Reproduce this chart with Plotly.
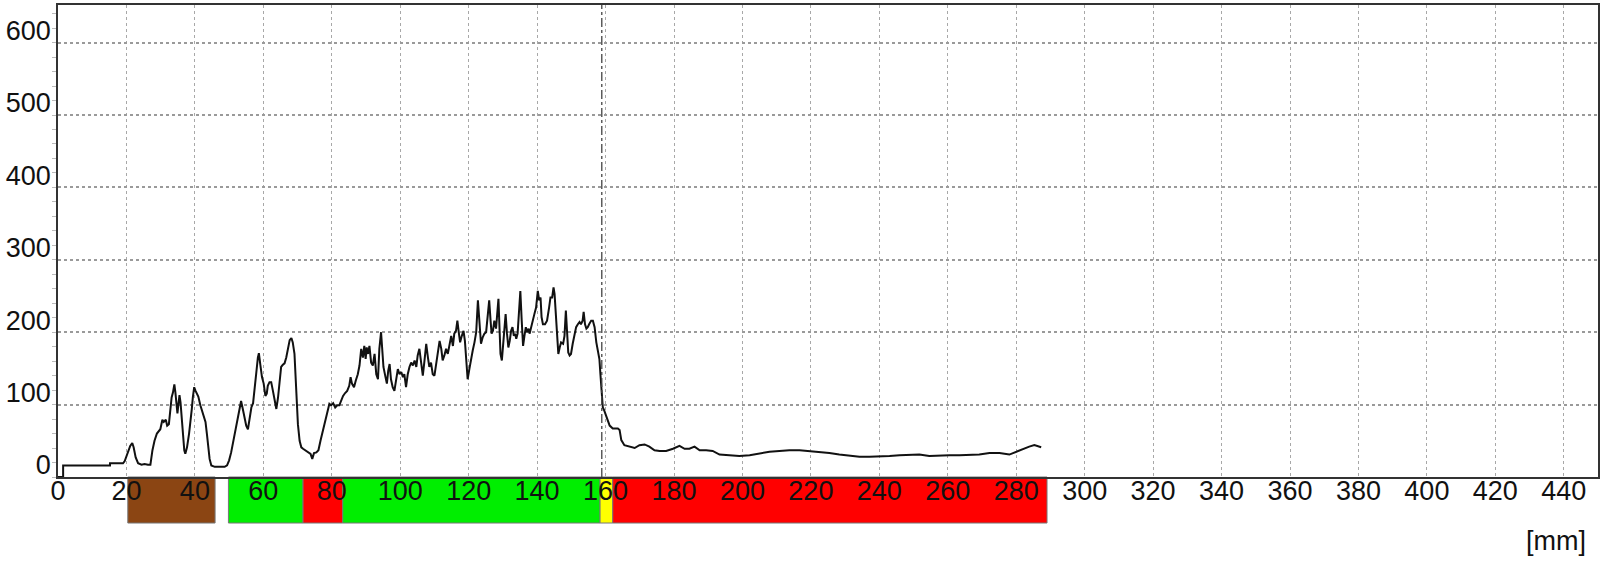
import plotly.graph_objects as go

# ---- profile data (mm, value) ----
pos_mm = [0, 1.5, 1.5, 15.2, 15.2, 19.0,
          19.5, 20.5, 21.1, 21.7, 22.1, 22.7, 23.4, 24.4, 25.3, 26.3, 27.0, 27.6, 28.2, 28.9,
          29.5, 29.9, 30.5, 30.9, 31.5, 31.9, 32.4, 32.8, 33.2, 33.6, 34.0, 34.3, 34.6, 34.9,
          35.2, 35.5, 35.8, 36.1, 36.5, 36.9, 37.2, 37.7, 38.3, 38.7, 39.1, 39.4, 39.8, 40.2,
          40.6, 41.0, 41.6, 42.2, 42.8, 43.1, 43.5, 43.9, 44.3, 44.8, 45.8, 47.2, 48.7, 49.4,
          50.0, 50.6, 51.6,
          52.1, 52.6, 53.1, 53.5, 54.0, 54.5, 55.0, 55.5, 56.0, 56.5, 57.0, 57.4, 57.9, 58.4,
          58.7, 59.1, 59.6, 60.1, 60.6, 61.0, 61.3, 61.8, 62.3, 62.8, 63.3, 63.8, 64.3, 64.7,
          65.2, 65.7, 66.2, 66.7, 67.2, 67.7, 68.2, 68.6, 69.1, 69.5, 69.8, 70.1, 70.6, 71.1,
          71.6, 72.2, 73.0, 73.8, 74.3, 74.8, 75.5, 76.1, 76.7, 77.4, 78.1, 78.7, 79.3, 79.8,
          80.4, 81.0, 81.6, 82.2, 82.8, 83.3, 83.9, 84.5, 85.1, 85.5, 85.9, 86.5, 87.0, 87.6,
          88.1,
          88.6, 89.1, 89.5, 89.9, 90.2, 90.6, 91.0, 91.5, 92.0, 92.5, 93.0, 93.5, 93.9, 94.4,
          94.7, 95.1, 95.7, 96.1, 96.5, 96.9, 97.3, 97.8, 98.3, 98.8, 99.3, 99.8, 100.3, 100.8,
          101.2, 101.7, 102.2, 102.7, 103.2, 103.7, 104.2, 104.7, 105.1, 105.6, 106.1, 106.6,
          107.1, 107.6, 108.1, 108.5, 109.0, 109.5, 110.0, 110.5, 111.0, 111.5, 112.0, 112.4,
          112.9, 113.4, 113.9, 114.4, 114.9, 115.4, 115.8, 116.3, 116.7, 117.1, 117.5, 118.0,
          118.5, 118.9, 119.3, 119.7, 120.2, 120.7, 121.2, 121.7, 122.2, 122.7, 123.2, 123.6,
          124.1, 124.6,
          125.1, 125.6, 126.0, 126.4, 126.7, 127.1, 127.5, 128.0, 128.3, 128.7, 129.0, 129.3,
          129.7, 130.1, 130.4, 130.8, 131.2, 131.6, 132.0, 132.4, 132.8, 133.2, 133.6, 133.9,
          134.3, 134.7, 135.1, 135.5, 135.9, 136.3, 136.7, 137.1, 137.5, 137.8, 138.2, 138.7,
          139.2, 139.7, 140.2, 140.6, 141.0, 141.3, 141.7, 142.3, 142.9, 143.5, 143.9, 144.4,
          144.8, 145.1, 145.5, 145.8, 146.2, 146.6, 147.0, 147.6, 148.0, 148.4, 148.8, 149.1,
          149.5, 149.9, 150.4, 150.9, 151.4, 151.9, 152.4, 152.8, 153.3, 153.6, 154.0, 154.4,
          154.8, 155.2, 155.8, 156.3, 156.8, 157.3, 157.7, 158.2, 158.5, 158.7, 158.9,
          159.2, 159.6, 160.2, 161.2, 162.1, 163.6, 164.1, 164.6, 165.5, 167.0, 168.5, 169.9,
          171.4, 172.8, 174.3, 175.8, 177.7, 179.7, 181.6, 183.1, 184.5, 186.0, 187.5, 189.4,
          191.3, 193.3, 196.2, 199.1, 202.1, 205.0, 207.9, 210.8, 213.7, 216.7, 219.6, 222.5,
          225.4, 228.3, 231.3, 234.2, 237.1, 240.0, 243.0, 245.9, 248.8, 251.7, 254.6, 257.6,
          260.5, 263.4, 266.3, 269.2, 272.2, 275.1, 278.0, 280.0, 281.9, 283.8, 285.3, 286.8,
          287.3]

value = [0, 0, 16, 16, 19, 19,
         22, 34, 43, 47, 41, 27, 19, 17, 18, 17, 17, 37, 50, 60,
         63, 66, 79, 76, 79, 71, 73, 94, 110, 117, 128, 117, 103, 88,
         101, 113, 103, 83, 60, 37, 32, 41, 60, 83, 94, 110, 124, 119,
         115, 111, 99, 90, 83, 76, 60, 41, 25, 16, 14, 14, 14, 16,
         23, 34, 58,
         73, 87, 99, 105, 94, 83, 71, 66, 83, 96, 102, 117, 142, 165,
         171, 156, 138, 129, 112, 115, 126, 131, 131, 119, 103, 94, 110, 133,
         152, 155, 157, 165, 177, 189, 192, 186, 170, 133, 101, 73, 50, 41,
         39, 37, 34, 32, 25, 33, 34, 37, 50, 64, 78, 92, 101, 99,
         102, 96, 99, 99, 106, 112, 116, 119, 126, 138, 129, 124, 133, 142,
         154,
         177, 165, 181, 163, 179, 170, 181, 158, 154, 170, 142, 135, 177, 200,
         177, 152, 138, 129, 147, 156, 135, 124, 119, 133, 149, 142, 145, 138,
         142, 124, 142, 152, 158, 154, 161, 152, 168, 177, 156, 140,
         161, 184, 165, 152, 158, 142, 140, 158, 170, 188, 177, 161,
         168, 177, 170, 184, 195, 181, 198, 202, 216, 200, 186, 195,
         202, 188, 163, 135, 149, 165, 175, 186, 200, 244, 216, 184,
         193, 198,
         200, 225, 244, 216, 198, 202, 216, 205, 221, 246, 207, 170,
         161, 184, 211, 225, 198, 179, 188, 202, 207, 195, 198, 191,
         198, 225, 257, 216, 181, 195, 207, 200, 205, 198, 207, 216,
         225, 234, 257, 244, 248, 221, 211, 211, 216, 234, 248, 248,
         262, 253, 223, 198, 170, 179, 186, 184, 195, 230, 193, 172,
         168, 170, 184, 195, 207, 211, 214, 211, 216, 228, 211, 205,
         207, 211, 216, 216, 207, 186, 175, 163, 142, 129, 106,
         96, 92, 83, 71, 67, 67, 65, 51, 44, 42, 40, 44,
         45, 42, 37, 36, 36, 39, 43, 39, 39, 42, 37, 37,
         36, 31, 30, 29, 30, 33, 35, 36, 37, 37, 36, 35,
         33, 31, 29, 28, 28, 28, 29, 30, 31, 31, 29, 30,
         30, 30, 30, 31, 33, 33, 31, 35, 39, 42, 44, 42,
         41]

# ---- coloured zone bar under the axis (mm) ----
zone_start = [20.4, 49.8, 71.6, 83.2, 158.4, 162.1]
zone_end = [45.9, 71.6, 83.2, 158.4, 162.1, 289.0]
zone_color = ["#8B4513", "#00EE00", "#FF0000", "#00EE00", "#FFFF00", "#FF0000"]

cursor_mm = 158.9

x_ticks = list(range(0, 441, 20))
y_ticks = list(range(0, 601, 100))

FONT = "Liberation Sans, Arial, sans-serif"
FS = 27

fig = go.Figure()
fig.add_trace(go.Scatter(x=pos_mm, y=value, mode="lines",
                         line=dict(color="#111111", width=2), hoverinfo="skip"))

shapes = []
for s, e, c in zip(zone_start, zone_end, zone_color):
    shapes.append(dict(type="rect", xref="x", yref="paper", x0=s, x1=e,
                       y0=-0.0975, y1=0, fillcolor=c,
                       line=dict(color="#777777", width=1), layer="below"))
shapes.append(dict(type="line", xref="x", yref="paper", x0=cursor_mm, x1=cursor_mm,
                   y0=0, y1=1, line=dict(color="#444444", width=1.3, dash="dashdot"),
                   layer="above"))

fig.update_layout(
    width=1602, height=563,
    margin=dict(l=58, r=4, t=5, b=86, autoexpand=False),
    paper_bgcolor="white", plot_bgcolor="white",
    showlegend=False,
    shapes=shapes,
    font=dict(family=FONT, size=FS, color="#111111"),
    xaxis=dict(range=[0, 450], tickvals=x_ticks, ticks="", showgrid=True,
               gridcolor="#a8a8a8", gridwidth=1, griddash="dot",
               showline=True, linecolor="#333333", linewidth=2, mirror=True,
               zeroline=False, automargin=False,
               tickfont=dict(family=FONT, size=FS, color="#111111"),
               ticklabelstandoff=-11),
    yaxis=dict(range=[0, 652], tickvals=y_ticks, ticks="", showgrid=True,
               gridcolor="#9a9a9a", gridwidth=1.5, griddash="dot",
               showline=True, linecolor="#333333", linewidth=1.5, mirror=True,
               zeroline=False, automargin=False,
               tickfont=dict(family=FONT, size=FS, color="#111111"),
               ticklabelshift=-12, ticklabelstandoff=0,
               minor=dict(ticks="outside", ticklen=4, tickcolor="#bbbbbb", dtick=20)),
    annotations=[dict(text="[mm]", xref="paper", yref="paper", x=1, y=0,
                      xanchor="right", yanchor="middle", xshift=-10, yshift=-64,
                      showarrow=False, font=dict(family=FONT, size=FS, color="#111111"))],
)

fig.write_html("out.html", config={"displayModeBar": False},
               post_script="document.body.style.margin='0';document.body.style.overflow='hidden';")
